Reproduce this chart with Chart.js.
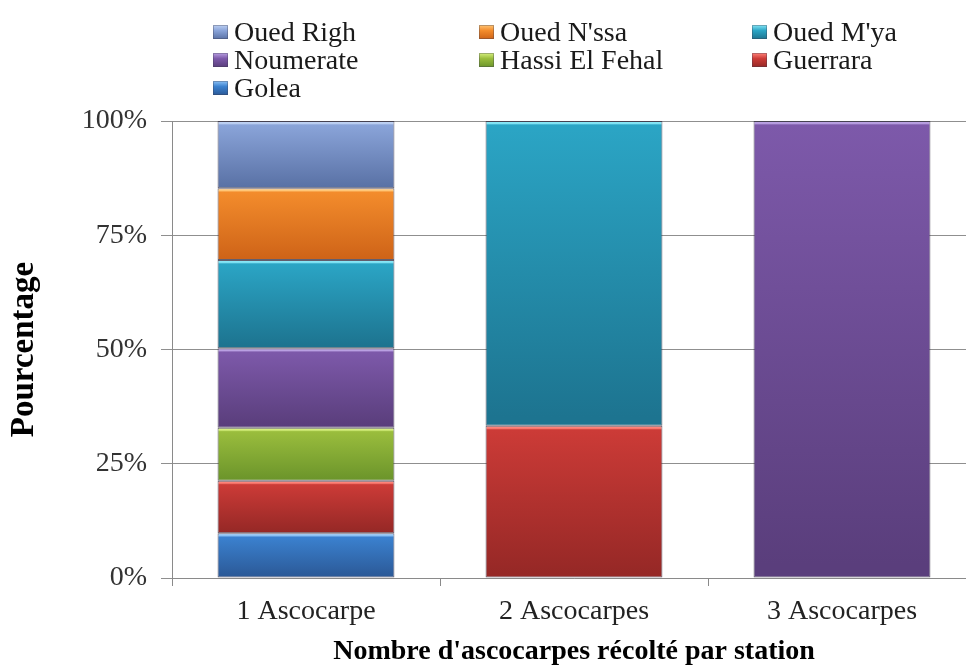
<!DOCTYPE html>
<html>
<head>
<meta charset="utf-8">
<script src="https://cdn.jsdelivr.net/npm/chart.js@4/dist/chart.umd.min.js"></script>
<style>
  html, body { margin: 0; padding: 0; background: #fff; }
  #wrap { position: relative; width: 966px; height: 669px; overflow: hidden; }
  #chart { position: absolute; left: 0; top: 0; }
  #legend { position: absolute; left: 0; top: 0; width: 966px; height: 110px;
            font-family: "Liberation Serif", "Times New Roman", serif; font-size: 28px; color: #1a1a1a; }
  .item { position: absolute; height: 28px; line-height: 28px; white-space: nowrap; }
  .swatch { position: absolute; top: 7px; left: 0; width: 15px; height: 14px; }
  .label { position: absolute; left: 21px; top: 0; }
</style>
</head>
<body>
<div id="wrap">
  <canvas id="chart" width="980" height="669" style="width:980px;height:669px"></canvas>
  <div id="legend"></div>
</div>
<script>
// Categories: number of ascocarps harvested per station
const categories = ['1 Ascocarpe', '2 Ascocarpes', '3 Ascocarpes'];

// Share of stations (%) in each category, one array per station
const golea        = [9.8,  null, null];
const guerrara     = [11.5, 33.3, null];
const hassiElFehal = [11.6, null, null];
const noumerate    = [17.4, null, 100];
const ouedMya      = [19.3, 66.7, null];
const ouedNssa     = [15.7, null, null];
const ouedRigh     = [14.7, null, null];

// Y axis ticks (%)
const yTickValues = [0, 25, 50, 75, 100];

// Stack order, bottom to top
const series = [
  { label: 'Golea',          data: golea,        hi: '#8cc2f6', mid: '#3b81cf', lo: '#2b5997' },
  { label: 'Guerrara',       data: guerrara,     hi: '#ff8278', mid: '#cc3b37', lo: '#962826' },
  { label: 'Hassi El Fehal', data: hassiElFehal, hi: '#d6f07e', mid: '#9abd3d', lo: '#6c952b' },
  { label: 'Noumerate',      data: noumerate,    hi: '#b9a0e2', mid: '#7d59aa', lo: '#5a3e7c' },
  { label: "Oued M'ya",      data: ouedMya,      hi: '#86e6f6', mid: '#2ba5c5', lo: '#1d7490' },
  { label: "Oued N'ssa",     data: ouedNssa,     hi: '#ffc677', mid: '#f38c2c', lo: '#cf6418' },
  { label: 'Oued Righ',      data: ouedRigh,     hi: '#bdd0f2', mid: '#8aa4d9', lo: '#5a72a6' }
];

// Vertical shading for each stacked segment, built from the y scale
function segmentFill(ctx) {
  const s = series[ctx.datasetIndex];
  const chart = ctx.chart;
  const y = chart.scales.y;
  if (!y || ctx.dataIndex === undefined) return s.mid;
  let start = 0;
  for (let d = 0; d < ctx.datasetIndex; d++) start += series[d].data[ctx.dataIndex] || 0;
  const v = series[ctx.datasetIndex].data[ctx.dataIndex] || 0;
  const top = y.getPixelForValue(start + v);
  const bottom = y.getPixelForValue(start);
  const h = Math.max(bottom - top, 1);
  if (!isFinite(top) || !isFinite(bottom)) return s.mid;
  const g = chart.ctx.createLinearGradient(0, top, 0, bottom);
  const f = Math.min(4 / h, 0.3);
  g.addColorStop(0, s.hi);
  g.addColorStop(f * 0.6, s.hi);
  g.addColorStop(f, s.mid);
  g.addColorStop(0.97, s.lo);
  g.addColorStop(1, s.lo);
  return g;
}

const serif = '"Liberation Serif", "Times New Roman", serif';

new Chart(document.getElementById('chart'), {
  type: 'bar',
  data: {
    labels: categories,
    datasets: series.map(s => ({
      label: s.label,
      data: s.data,
      backgroundColor: segmentFill,
      borderColor: 'rgba(45,40,60,0.75)',
      borderWidth: 1,
      borderSkipped: false,
      barPercentage: 0.66,
      categoryPercentage: 1
    }))
  },
  options: {
    responsive: false,
    animation: false,
    layout: { padding: { top: 121, left: 0, right: 4, bottom: 0 } },
    plugins: { legend: { display: false }, tooltip: { enabled: false } },
    scales: {
      x: {
        stacked: true,
        afterFit: s => { s.height = 91; },
        grid: { drawOnChartArea: false, drawTicks: true, tickLength: 8, color: '#8a8a8a', lineWidth: 1 },
        border: { color: '#8a8a8a', width: 1 },
        ticks: { color: '#222', padding: 9, font: { family: serif, size: 28 } },
        title: {
          display: true,
          text: "Nombre d'ascocarpes récolté par station",
          color: '#000',
          padding: { top: 0, bottom: 0 },
          font: { family: serif, size: 28, weight: 'bold' }
        }
      },
      y: {
        stacked: true,
        min: 0,
        max: 100,
        afterFit: s => { s.width = 172; },
        afterBuildTicks: s => { s.ticks = yTickValues.map(v => ({ value: v })); },
        grid: { color: '#8f8f8f', lineWidth: 1, tickLength: 11 },
        border: { color: '#8a8a8a', width: 1 },
        ticks: {
          color: '#333',
          padding: 14,
          font: { family: serif, size: 28 },
          callback: v => v + '%'
        },
        title: {
          display: true,
          text: 'Pourcentage',
          color: '#000',
          padding: { top: 5, bottom: 0 },
          font: { family: serif, size: 33, weight: 'bold' }
        }
      }
    }
  }
});

// Legend: three columns, top of the stack first
const legendOrder = series.slice().reverse();
const colX = [213, 479, 752];
const rowY = [18, 46, 74];
const legend = document.getElementById('legend');
legendOrder.forEach((s, i) => {
  const item = document.createElement('div');
  item.className = 'item';
  item.style.left = colX[i % 3] + 'px';
  item.style.top = rowY[Math.floor(i / 3)] + 'px';
  const sw = document.createElement('span');
  sw.className = 'swatch';
  sw.style.background = 'linear-gradient(' + s.hi + ',' + s.mid + ' 40%,' + s.lo + ')';
  sw.style.boxShadow = 'inset 0 0 0 1px rgba(60,60,80,0.35)';
  const tx = document.createElement('span');
  tx.className = 'label';
  tx.textContent = s.label;
  item.appendChild(sw);
  item.appendChild(tx);
  legend.appendChild(item);
});
</script>
</body>
</html>
